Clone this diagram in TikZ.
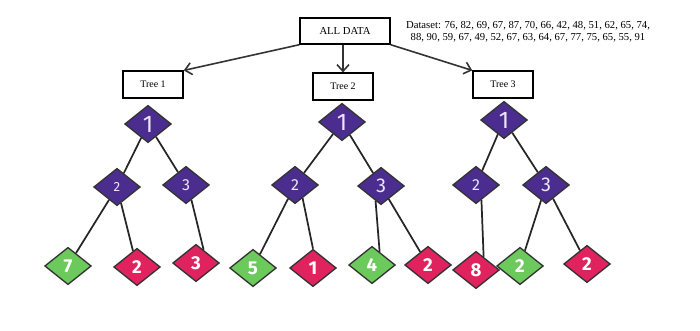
\documentclass[tikz,border=0pt]{standalone}
\usepackage{fontspec}
\setmainfont{Liberation Serif}
\newfontfamily\digitfont{Fira Sans}
\usetikzlibrary{arrows.meta,shapes.geometric}

\definecolor{splitpurple}{HTML}{4B2D8F}
\definecolor{leafred}{HTML}{E0235F}
\definecolor{leafgreen}{HTML}{6CC95C}
\definecolor{digitlav}{HTML}{EDE6FA}

\tikzset{
  databox/.style={draw, line width=1.1pt, inner sep=0pt, minimum width=45pt, minimum height=20pt, font=\fontsize{7.5}{9}\selectfont},
  split/.style={diamond, draw=black!80, line width=1pt, fill=splitpurple, text=digitlav, minimum width=35pt, minimum height=28pt, inner sep=0pt, font=\digitfont\fontsize{12}{12}\selectfont},
  rootsplit/.style={split, font=\digitfont\fontsize{18}{18}\selectfont},
  redleaf/.style={split, fill=leafred, text=white, font=\digitfont\bfseries\fontsize{14}{14}\selectfont},
  greenleaf/.style={redleaf, fill=leafgreen},
  branch/.style={line width=1.3pt, black!85},
  feed/.style={-{Straight Barb[length=5pt,width=9pt,line width=1.2pt]}, line width=1.2pt, black!80}
}

\begin{document}
\begin{tikzpicture}[x=0.75pt,y=-0.75pt]
\useasboundingbox (0,0) rectangle (700,331);

% data and the three trees
\node[databox, minimum width=67.5pt, minimum height=19.5pt, font=\fontsize{8}{9}\selectfont] (all) at (345,31) {ALL DATA};
\node[align=center, inner sep=0pt, font=\fontsize{8}{9.2}\selectfont] (dataset) at (528,32) {Dataset: 76, 82, 69, 67, 87, 70, 66, 42, 48, 51, 62, 65, 74,\\88, 90, 59, 67, 49, 52, 67, 63, 64, 67, 77, 75, 65, 55, 91};
\node[databox] (treeA) at (153,84.5) {Tree 1};
\node[databox] (treeB) at (343,86.5) {Tree 2};
\node[databox] (treeC) at (503,84.5) {Tree 3};
\draw[feed] (all.south west) -- (treeA.north east);
\draw[feed] (treeB.north |- all.south) -- (treeB.north);
\draw[feed] (all.south east) -- (treeC.north west);

% tree 1
\node[rootsplit] (a1) at (148,124) {1};
\node[split, font=\digitfont\fontsize{10}{10}\selectfont] (a2) at (117,187) {2};
\node[split] (a3) at (186,185) {3};
\node[greenleaf] (a4) at (68,266) {7};
\node[redleaf] (a5) at (137,267) {2};
\node[redleaf] (a6) at (196,263) {3};
\draw[branch] (a1) -- (a2);
\draw[branch] (a1) -- (a3);
\draw[branch] (a2) -- (a4);
\draw[branch] (a2) -- (a5);
\draw[branch] (a3.-70) -- (a6.60);

% tree 2
\node[rootsplit] (b1) at (342,122) {1};
\node[split] (b2) at (295,185) {2};
\node[split, font=\digitfont\fontsize{15}{15}\selectfont] (b3) at (381,186) {3};
\node[greenleaf] (b4) at (253,268) {5};
\node[redleaf] (b5) at (313,268) {1};
\node[greenleaf] (b6) at (372,265) {4};
\node[redleaf] (b7) at (428,265) {2};
\draw[branch] (b1) -- (b2);
\draw[branch] (b1) -- (b3);
\draw[branch] (b2) -- (b4);
\draw[branch] (b2.-60) -- (b5.north);
\draw[branch] (b3.-110) -- (b6.60);
\draw[branch] (b3) -- (b7);

% tree 3
\node[rootsplit] (c1) at (504,120) {1};
\node[split] (c2) at (476,185) {2};
\node[split, font=\digitfont\fontsize{15}{15}\selectfont] (c3) at (546,185) {3};
\node[redleaf] (c4) at (476,270) {8};
\node[greenleaf] (c5) at (520,266) {2};
\node[redleaf] (c6) at (587,264) {2};
\draw[branch] (c1) -- (c2);
\draw[branch] (c1) -- (c3);
\draw[branch] (c2.-70) -- (c4.60);
\draw[branch] (c3) -- (c5);
\draw[branch] (c3) -- (c6);
\end{tikzpicture}
\end{document}
